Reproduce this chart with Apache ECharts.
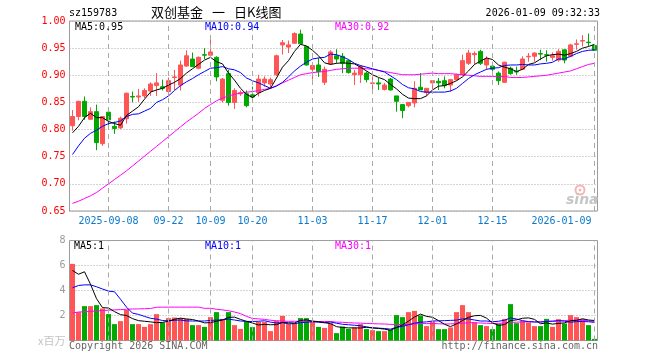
<!DOCTYPE html>
<html><head><meta charset="utf-8">
<script src="https://cdn.jsdelivr.net/npm/echarts@6/dist/echarts.min.js"></script>
<style>html,body{margin:0;padding:0;background:#fff}#c{width:660px;height:360px}</style>
</head><body><div id="c"></div>
<script>
const dates = [
'2025-08-29','2025-09-01','2025-09-02','2025-09-03','2025-09-04','2025-09-05',
'2025-09-08','2025-09-09','2025-09-10','2025-09-11','2025-09-12',
'2025-09-15','2025-09-16','2025-09-17','2025-09-18','2025-09-19',
'2025-09-22','2025-09-23','2025-09-24','2025-09-25','2025-09-26',
'2025-09-29','2025-09-30','2025-10-09','2025-10-10',
'2025-10-13','2025-10-14','2025-10-15','2025-10-16','2025-10-17',
'2025-10-20','2025-10-21','2025-10-22','2025-10-23','2025-10-24',
'2025-10-27','2025-10-28','2025-10-29','2025-10-30','2025-10-31',
'2025-11-03','2025-11-04','2025-11-05','2025-11-06','2025-11-07',
'2025-11-10','2025-11-11','2025-11-12','2025-11-13','2025-11-14',
'2025-11-17','2025-11-18','2025-11-19','2025-11-20','2025-11-21',
'2025-11-24','2025-11-25','2025-11-26','2025-11-27','2025-11-28',
'2025-12-01','2025-12-02','2025-12-03','2025-12-04','2025-12-05',
'2025-12-08','2025-12-09','2025-12-10','2025-12-11','2025-12-12',
'2025-12-15','2025-12-16','2025-12-17','2025-12-18','2025-12-19',
'2025-12-22','2025-12-23','2025-12-24','2025-12-25','2025-12-26',
'2025-12-29','2025-12-30','2025-12-31',
'2026-01-05','2026-01-06','2026-01-07','2026-01-08','2026-01-09'];

const opens = [
0.807,0.824,0.852,0.819,0.833,0.774,0.832,0.806,0.803,0.820,
0.861,0.860,0.862,0.871,0.881,0.879,0.870,0.896,0.882,0.917,
0.930,0.913,0.938,0.937,0.933,0.854,0.903,0.850,0.866,0.866,
0.864,0.868,0.886,0.884,0.901,0.956,0.952,0.959,0.976,0.953,
0.911,0.919,0.887,0.921,0.936,0.935,0.927,0.901,0.901,0.904,
0.885,0.886,0.874,0.893,0.862,0.846,0.844,0.849,0.878,0.868,
0.886,0.889,0.890,0.882,0.892,0.901,0.922,0.938,0.944,0.919,
0.917,0.904,0.887,0.913,0.907,0.911,0.934,0.935,0.940,0.938,
0.933,0.928,0.947,0.935,0.957,0.963,0.961,0.955];
const closes = [
0.824,0.852,0.824,0.833,0.776,0.824,0.818,0.802,0.821,0.867,
0.860,0.862,0.872,0.884,0.886,0.876,0.890,0.897,0.919,0.936,
0.916,0.933,0.937,0.943,0.897,0.893,0.850,0.872,0.868,0.844,
0.860,0.893,0.893,0.892,0.936,0.960,0.956,0.977,0.958,0.919,
0.918,0.907,0.911,0.943,0.930,0.922,0.905,0.904,0.916,0.892,
0.886,0.884,0.882,0.873,0.852,0.835,0.850,0.876,0.873,0.876,
0.890,0.886,0.881,0.892,0.901,0.927,0.941,0.940,0.922,0.930,
0.911,0.890,0.924,0.903,0.906,0.930,0.935,0.941,0.939,0.937,
0.936,0.944,0.928,0.956,0.958,0.964,0.960,0.946];
const lows = [
0.798,0.817,0.818,0.818,0.762,0.770,0.800,0.792,0.801,0.811,
0.850,0.851,0.858,0.862,0.862,0.872,0.864,0.873,0.872,0.916,
0.915,0.911,0.930,0.937,0.889,0.850,0.844,0.838,0.862,0.841,
0.852,0.861,0.879,0.877,0.899,0.938,0.941,0.959,0.958,0.918,
0.892,0.897,0.882,0.919,0.922,0.904,0.903,0.882,0.886,0.887,
0.873,0.873,0.872,0.872,0.833,0.821,0.841,0.841,0.873,0.862,
0.870,0.873,0.876,0.870,0.890,0.899,0.919,0.920,0.919,0.910,
0.907,0.882,0.886,0.901,0.901,0.910,0.925,0.925,0.928,0.925,
0.927,0.925,0.922,0.933,0.947,0.953,0.954,0.946];
const highs = [
0.836,0.853,0.861,0.841,0.846,0.825,0.833,0.815,0.824,0.868,
0.870,0.875,0.876,0.887,0.904,0.892,0.896,0.910,0.927,0.946,
0.942,0.935,0.950,0.974,0.935,0.895,0.910,0.876,0.872,0.872,
0.879,0.901,0.898,0.896,0.938,0.965,0.964,0.979,0.984,0.953,
0.922,0.932,0.916,0.946,0.948,0.941,0.929,0.910,0.919,0.907,
0.898,0.895,0.886,0.895,0.862,0.846,0.850,0.889,0.904,0.876,
0.890,0.895,0.898,0.892,0.903,0.938,0.947,0.944,0.947,0.935,
0.925,0.907,0.925,0.916,0.916,0.935,0.941,0.942,0.947,0.946,
0.942,0.948,0.948,0.958,0.966,0.974,0.977,0.956];

const ma5 = [
.794,.806,.822,.830,.822,.822,.815,.811,.808,.826,
.834,.842,.856,.869,.873,.876,.882,.887,.894,.904,
.912,.920,.928,.933,.925,.921,.904,.891,.876,.865,
.859,.867,.872,.876,.895,.915,.927,.944,.957,.954,
.946,.936,.923,.920,.922,.923,.922,.921,.915,.908,
.901,.896,.892,.883,.875,.865,.858,.857,.857,.862,
.873,.880,.881,.885,.890,.897,.908,.920,.926,.932,
.929,.919,.915,.912,.907,.911,.920,.923,.930,.936,
.938,.939,.937,.940,.944,.950,.953,.957];
const ma10 = [
.754,.770,.784,.793,.799,.806,.811,.813,.816,.824,
.828,.829,.834,.839,.850,.855,.862,.872,.881,.888,
.894,.901,.907,.913,.914,.916,.912,.910,.905,.895,
.890,.886,.881,.876,.880,.887,.897,.908,.917,.924,
.930,.932,.933,.939,.938,.934,.929,.922,.918,.915,
.912,.909,.906,.899,.892,.883,.877,.875,.870,.869,
.869,.869,.869,.871,.876,.885,.894,.901,.906,.911,
.913,.914,.918,.919,.919,.920,.919,.919,.921,.922,
.924,.930,.930,.935,.940,.944,.946,.947];
const ma30 = [
.664,.668,.673,.678,.684,.692,.700,.708,.716,.724,
.733,.742,.751,.760,.769,.778,.787,.796,.805,.814,
.822,.830,.839,.846,.853,.858,.862,.865,.867,.869,
.870,.872,.874,.876,.881,.886,.891,.896,.901,.903,
.905,.906,.907,.909,.911,.912,.913,.913,.913,.912,
.911,.909,.907,.905,.903,.901,.901,.901,.902,.903,
.904,.903,.903,.903,.902,.901,.900,.899,.898,.898,
.898,.897,.898,.896,.896,.896,.897,.898,.899,.900,
.902,.904,.906,.908,.912,.916,.920,.922];

const vols = [
6.13,2.27,2.75,2.75,2.83,2.56,2.11,1.31,1.55,2.45,
1.31,1.31,1.09,1.31,2.11,1.44,1.79,1.84,1.79,1.73,
1.23,1.23,1.09,1.87,2.27,1.73,2.27,1.23,0.93,1.49,
1.07,1.49,1.49,0.75,1.57,1.97,1.31,1.39,1.79,1.79,
1.49,1.09,1.01,1.39,0.59,1.12,0.93,1.04,1.31,0.91,
0.83,0.75,0.75,0.85,2.03,1.87,2.27,2.37,2.00,1.15,
1.52,0.91,0.91,1.04,2.27,2.83,2.27,1.47,1.23,1.15,
0.91,1.31,1.73,2.91,1.39,1.57,1.44,1.15,1.15,1.73,
1.09,1.71,1.36,2.03,1.87,1.71,1.23,0.13];
const vma5 = [
5.60,5.30,5.50,4.50,3.35,2.63,2.60,2.31,2.07,2.00,
1.75,1.59,1.54,1.49,1.43,1.45,1.55,1.70,1.79,1.72,
1.68,1.56,1.41,1.43,1.54,1.64,1.85,1.87,1.69,1.53,
1.40,1.24,1.29,1.26,1.27,1.45,1.42,1.40,1.61,1.65,
1.55,1.51,1.43,1.35,1.11,1.04,1.01,1.01,1.00,1.06,
1.00,0.97,0.91,0.82,1.04,1.25,1.55,1.88,2.11,1.93,
1.86,1.59,1.30,1.11,1.33,1.59,1.86,1.98,2.01,1.79,
1.41,1.21,1.27,1.60,1.65,1.78,1.81,1.69,1.34,1.41,
1.31,1.37,1.41,1.58,1.61,1.74,1.64,1.60];
const vma10 = [
4.22,4.40,4.45,4.45,4.30,4.12,3.95,3.90,3.30,2.67,
2.19,2.09,1.93,1.78,1.71,1.60,1.57,1.62,1.64,1.57,
1.56,1.56,1.56,1.61,1.63,1.66,1.71,1.64,1.56,1.53,
1.52,1.54,1.58,1.47,1.40,1.43,1.33,1.35,1.43,1.46,
1.50,1.46,1.42,1.48,1.38,1.30,1.26,1.22,1.18,1.09,
1.02,0.99,0.96,0.91,1.05,1.13,1.26,1.39,1.46,1.49,
1.56,1.57,1.59,1.61,1.63,1.73,1.73,1.64,1.56,1.56,
1.50,1.54,1.62,1.81,1.72,1.59,1.51,1.48,1.47,1.53,
1.55,1.59,1.55,1.46,1.51,1.52,1.50,1.45];
const vma30 = [
2.20,2.28,2.30,2.33,2.36,2.40,2.43,2.45,2.47,2.50,
2.52,2.53,2.54,2.56,2.66,2.67,2.67,2.67,2.67,2.67,
2.67,2.67,2.57,2.58,2.50,2.45,2.38,2.28,2.15,1.93,
1.76,1.73,1.69,1.62,1.58,1.56,1.53,1.54,1.54,1.52,
1.53,1.52,1.52,1.52,1.47,1.46,1.43,1.40,1.39,1.36,
1.35,1.33,1.32,1.29,1.28,1.28,1.28,1.32,1.36,1.35,
1.36,1.34,1.32,1.33,1.36,1.38,1.42,1.42,1.40,1.38,
1.36,1.37,1.39,1.44,1.47,1.48,1.50,1.50,1.50,1.53,
1.53,1.57,1.59,1.63,1.62,1.62,1.58,1.52];

const tickDates  = ['2025-09-08','2025-09-22','2025-10-09','2025-10-20','2025-11-03','2025-11-17','2025-12-01','2025-12-15','2026-01-09'];
const tickLabels = ['2025-09-08','09-22','10-09','10-20','11-03','11-17','12-01','12-15','2026-01-09'];
const priceTicks = {min: 0.65, max: 1.00, interval: 0.05};
const volTicks = {min: 0, max: 8, interval: 2};

const MONO = 'DejaVu Sans Mono';
const CJK = 'Noto Sans CJK SC';
const UP = '#ff5555', DOWN = '#00a800';
const GRIDC = '#a8a8a8';

const candleData = dates.map((d, i) => [opens[i], closes[i], lows[i], highs[i]]);
const volData = vols.map((v, i) => ({value: v, itemStyle: {color: closes[i] >= opens[i] ? UP : DOWN}}));
const lastIdx = dates.length - 1;

function maLine(data, color, xi, yi) {
  return {type: 'line', data: data, xAxisIndex: xi, yAxisIndex: yi, symbol: 'none', showSymbol: false,
    silent: true, z: 3, lineStyle: {color: color, width: 1}, itemStyle: {color: color}};
}
function vGrid(xi, yi, data) {
  return {type: 'line', data: data, xAxisIndex: xi, yAxisIndex: yi, symbol: 'none', silent: true, z: 1,
    lineStyle: {opacity: 0}, itemStyle: {opacity: 0},
    markLine: {silent: true, symbol: ['none', 'none'], label: {show: false}, animation: false,
      lineStyle: {color: GRIDC, type: [5, 4], width: 1},
      data: tickDates.map(d => ({xAxis: d}))}};
}
function txt(x, y, text, color, opt) {
  opt = opt || {};
  return {type: 'text', x: x, y: y, silent: true, z: 100,
    style: Object.assign({text: text, fill: color, font: opt.font || ('10px "' + MONO + '"'),
      textAlign: opt.align || 'left', align: opt.align || 'left',
      textVerticalAlign: 'middle', verticalAlign: 'middle'}, opt.style || {})};
}

const chart = echarts.init(document.getElementById('c'), null, {renderer: 'canvas'});
chart.setOption({
  animation: false,
  backgroundColor: '#fff',
  grid: [
    {left: 69.5, top: 21, width: 528, height: 190, show: true, borderColor: '#9a9a9a', borderWidth: 1, backgroundColor: 'transparent'},
    {left: 69.5, top: 240.5, width: 528, height: 100, show: true, borderColor: '#9a9a9a', borderWidth: 1, backgroundColor: 'transparent'}
  ],
  xAxis: [
    {type: 'category', gridIndex: 0, data: dates, boundaryGap: true,
      axisLine: {show: false}, axisTick: {show: false}, splitLine: {show: false},
      axisLabel: {show: true, margin: 5, color: '#0a78cc', fontFamily: MONO, fontSize: 10,
        interval: function (idx) { return tickDates.indexOf(dates[idx]) >= 0; },
        formatter: function (v, idx) {
          const k = tickDates.indexOf(v);
          if (k < 0) return '';
          if (idx === lastIdx) return '{r|' + tickLabels[k] + '}';
          return tickLabels[k];
        },
        rich: {r: {color: '#0a78cc', fontFamily: MONO, fontSize: 10, padding: [0, 66, 0, 0]}}
      }},
    {type: 'category', gridIndex: 1, data: dates, boundaryGap: true,
      axisLine: {show: false}, axisTick: {show: false}, splitLine: {show: false}, axisLabel: {show: false}}
  ],
  yAxis: [
    {type: 'value', gridIndex: 0, min: priceTicks.min, max: priceTicks.max, interval: priceTicks.interval,
      axisLine: {show: false}, axisTick: {show: false},
      splitLine: {show: true, lineStyle: {color: GRIDC, type: [1, 2], width: 1}},
      axisLabel: {margin: 4, color: '#ff0000', fontFamily: MONO, fontSize: 10,
        formatter: v => v.toFixed(2)}},
    {type: 'value', gridIndex: 1, min: volTicks.min, max: volTicks.max, interval: volTicks.interval,
      axisLine: {show: false}, axisTick: {show: false},
      splitLine: {show: true, lineStyle: {color: GRIDC, type: [1, 2], width: 1}},
      axisLabel: {margin: 4, color: '#999', fontFamily: MONO, fontSize: 10,
        formatter: v => v === 0 ? '{u|x百万}' : String(v),
        rich: {u: {color: '#c4c4c4', fontSize: 11, fontFamily: CJK, padding: [1, 0, 0, 0]}}}}
  ],
  series: [
    vGrid(0, 0, ma30),
    vGrid(1, 1, vma30),
    {type: 'candlestick', xAxisIndex: 0, yAxisIndex: 0, data: candleData, barWidth: 4, z: 2, silent: true,
      itemStyle: {color: UP, color0: DOWN, borderColor: UP, borderColor0: DOWN, borderWidth: 1}},
    maLine(ma30, '#ff00ff', 0, 0),
    maLine(ma10, '#0000ff', 0, 0),
    maLine(ma5, '#000000', 0, 0),
    {type: 'bar', xAxisIndex: 1, yAxisIndex: 1, data: volData, barWidth: 5, z: 2, silent: true},
    maLine(vma30, '#ff00ff', 1, 1),
    maLine(vma10, '#0000ff', 1, 1),
    maLine(vma5, '#000000', 1, 1)
  ],
  graphic: [
    txt(69, 13.5, 'sz159783', '#000'),
    txt(151, 12.5, '双创基金', '#000', {font: '13px "' + CJK + '"'}),
    txt(212, 12.5, '一', '#000', {font: '13px "' + CJK + '"'}),
    txt(234, 12.5, '日K线图', '#000', {font: '13px "' + CJK + '"'}),
    txt(600, 13.5, '2026-01-09 09:32:33', '#000', {align: 'right'}),
    txt(75, 27, 'MA5:0.95', '#000'),
    txt(205, 27, 'MA10:0.94', '#0000ff'),
    txt(335, 27, 'MA30:0.92', '#ff00ff'),
    txt(74, 246.5, 'MA5:1', '#000'),
    txt(205, 246.5, 'MA10:1', '#0000ff'),
    txt(335, 246.5, 'MA30:1', '#ff00ff'),
    txt(69, 346, 'Copyright 2026 SINA.COM', '#666'),
    txt(598, 346, 'http://finance.sina.com.cn', '#666', {align: 'right'}),
    {type: 'circle', shape: {cx: 580, cy: 190, r: 4.5}, silent: true, z: 90,
      style: {fill: 'none', stroke: '#f4b4b4', lineWidth: 2}},
    {type: 'circle', shape: {cx: 580, cy: 190, r: 1.5}, silent: true, z: 90,
      style: {fill: '#f4b4b4'}},
    txt(566, 200, 'sina', '#c6c6c6', {font: 'italic bold 14px "DejaVu Sans"'})
  ]
});
</script>
</body></html>
